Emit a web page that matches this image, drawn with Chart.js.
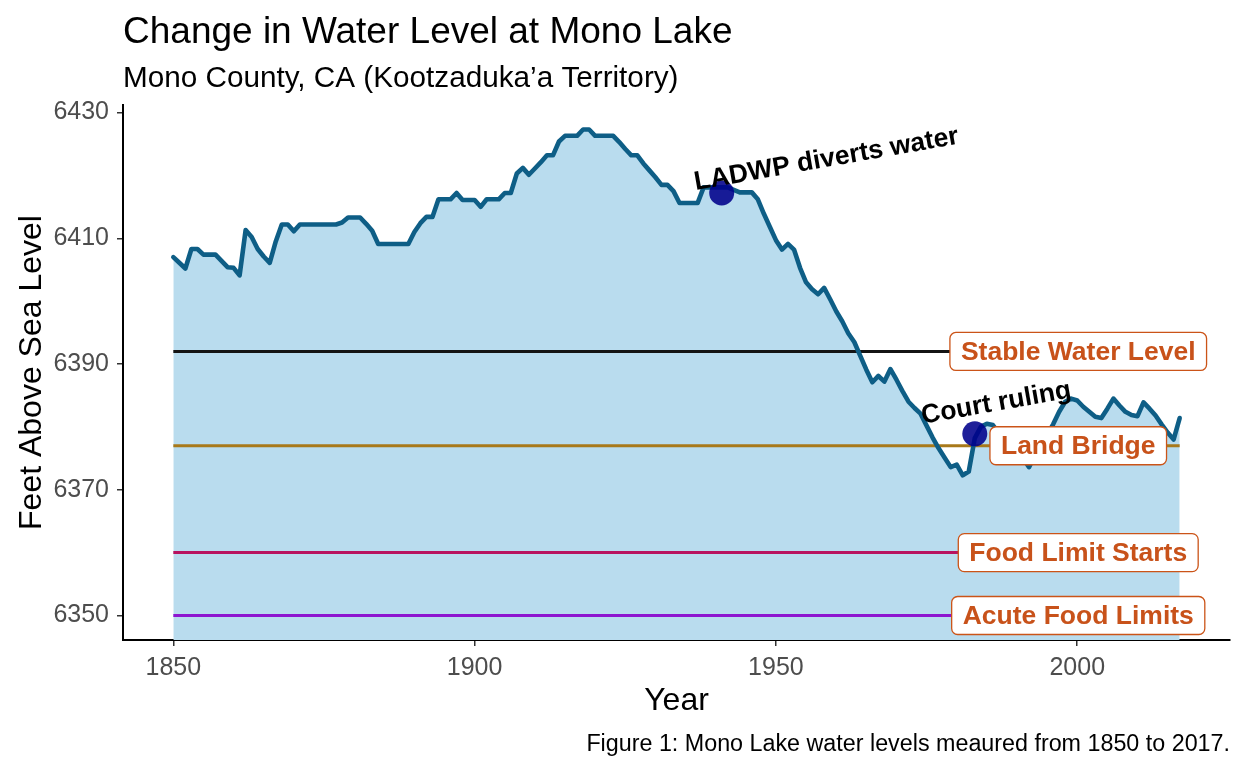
<!DOCTYPE html>
<html><head><meta charset="utf-8">
<script src="https://cdn.jsdelivr.net/npm/chart.js@4.4.1/dist/chart.umd.min.js"></script>
<style>html,body{margin:0;padding:0;background:#fff}canvas{display:block}</style>
</head><body>
<canvas id="c" width="1248" height="768"></canvas>
<script>
const years = [
 1850,1851,1852,1853,1854,1855,1856,1857,1858,1859,
 1860,1861,1862,1863,1864,1865,1866,1867,1868,1869,
 1870,1871,1872,1873,1874,1875,1876,1877,1878,1879,
 1880,1881,1882,1883,1884,1885,1886,1887,1888,1889,
 1890,1891,1892,1893,1894,1895,1896,1897,1898,1899,
 1900,1901,1902,1903,1904,1905,1906,1907,1908,1909,
 1910,1911,1912,1913,1914,1915,1916,1917,1918,1919,
 1920,1921,1922,1923,1924,1925,1926,1927,1928,1929,
 1930,1931,1932,1933,1934,1935,1936,1937,1938,1939,
 1940,1941,1942,1943,1944,1945,1946,1947,1948,1949,
 1950,1951,1952,1953,1954,1955,1956,1957,1958,1959,
 1960,1961,1962,1963,1964,1965,1966,1967,1968,1969,
 1970,1971,1972,1973,1974,1975,1976,1977,1978,1979,
 1980,1981,1982,1983,1984,1985,1986,1987,1988,1989,
 1990,1991,1992,1993,1994,1995,1996,1997,1998,1999,
 2000,2001,2002,2003,2004,2005,2006,2007,2008,2009,
 2010,2011,2012,2013,2014,2015,2016,2017];
const waterLevel = [
 6407.0,6406.1,6405.2,6408.3,6408.3,6407.4,6407.4,6407.4,6406.4,6405.4,
 6405.3,6404.1,6411.3,6410.2,6408.3,6407.1,6406.1,6409.5,6412.2,6412.2,
 6411.1,6412.2,6412.2,6412.2,6412.2,6412.2,6412.2,6412.2,6412.5,6413.3,
 6413.3,6413.3,6412.3,6411.2,6409.1,6409.1,6409.1,6409.1,6409.1,6409.1,
 6411.0,6412.4,6413.4,6413.4,6416.2,6416.2,6416.2,6417.2,6416.1,6416.1,
 6416.1,6415.0,6416.2,6416.2,6416.2,6417.2,6417.2,6420.3,6421.2,6420.1,
 6421.1,6422.1,6423.2,6423.2,6425.4,6426.3,6426.3,6426.3,6427.3,6427.3,
 6426.3,6426.3,6426.3,6426.3,6425.3,6424.2,6423.2,6423.2,6421.9,6420.8,
 6419.7,6418.5,6418.5,6417.5,6415.6,6415.6,6415.6,6415.6,6418.1,6418.1,
 6418.1,6418.1,6418.1,6417.7,6417.3,6417.3,6417.3,6416.2,6413.9,6411.8,
 6409.7,6408.2,6409.1,6408.2,6405.3,6403.0,6401.9,6401.1,6402.1,6400.3,
 6398.4,6396.8,6394.9,6393.5,6391.3,6389.1,6387.1,6388.1,6387.2,6389.2,
 6387.5,6385.7,6384.0,6383.0,6382.1,6380.2,6378.3,6376.6,6375.1,6373.6,
 6374.0,6372.3,6372.9,6378.2,6380.0,6380.5,6380.3,6379.0,6378.0,6377.0,
 6376.0,6375.0,6373.6,6375.5,6377.1,6378.8,6380.4,6382.4,6384.0,6384.5,
 6384.2,6383.2,6382.4,6381.6,6381.4,6382.9,6384.5,6383.4,6382.4,6381.9,
 6381.7,6383.9,6382.9,6381.8,6380.4,6379.1,6378.0,6381.4];
const xTicks = [1850,1900,1950,2000];
const yTicks = [6350,6370,6390,6410,6430];
const refLabels = ['Stable Water Level','Land Bridge','Food Limit Starts','Acute Food Limits'];
const refLevels = [6392,6377,6360,6350];
const refLabelYear = 2000;
const eventLabels = ['LADWP diverts water','Court ruling'];
const eventYears = [1941,1983];
const eventLevels = [6417.2,6378.9];
const titleText = 'Change in Water Level at Mono Lake';
const subtitleText = 'Mono County, CA (Kootzaduka\u2019a Territory)';
const captionText = 'Figure 1: Mono Lake water levels meaured from 1850 to 2017.';
const xTitle = 'Year';
const yTitle = 'Feet Above Sea Level';

const FONT = "'Liberation Sans', Arial, Helvetica, sans-serif";
Chart.defaults.font.family = FONT;

const refColors = ['#141414','#A8791A','#B8135F','#8E16CF'];
const series = years.map((yr, i) => ({x: yr, y: waterLevel[i]}));
const firstYear = years[0], lastYear = years[years.length - 1];

const datasets = [
  {data: series, borderWidth: 0, pointRadius: 0, fill: 'start', backgroundColor: '#B9DCEE', order: 10},
  ...refLevels.map((v, i) => ({
    data: [{x: firstYear, y: v}, {x: lastYear, y: v}],
    borderColor: refColors[i], borderWidth: 3, pointRadius: 0, fill: false, order: 5
  })),
  {data: series, borderColor: '#0E5E86', borderWidth: 4.6, pointRadius: 0, fill: false,
   borderJoinStyle: 'round', borderCapStyle: 'round', order: 2},
  {type: 'scatter', data: eventYears.map((yr, i) => ({x: yr, y: eventLevels[i]})),
   pointRadius: 12.5, pointHoverRadius: 12.5, backgroundColor: 'rgba(0,0,139,0.88)', borderWidth: 0, order: 1}
];

function roundRect(ctx, x, y, w, h, r) {
  ctx.beginPath();
  ctx.moveTo(x + r, y);
  ctx.lineTo(x + w - r, y); ctx.arcTo(x + w, y, x + w, y + r, r);
  ctx.lineTo(x + w, y + h - r); ctx.arcTo(x + w, y + h, x + w - r, y + h, r);
  ctx.lineTo(x + r, y + h); ctx.arcTo(x, y + h, x, y + h - r, r);
  ctx.lineTo(x, y + r); ctx.arcTo(x, y, x + r, y, r);
  ctx.closePath();
}

const deco = {
  id: 'deco',
  afterDatasetsDraw(chart) {
    const {ctx, scales: {x, y}} = chart;
    ctx.save();
    const evOff = [[-26, -3], [-52, -10]];
    eventLabels.forEach((t, i) => {
      const px = x.getPixelForValue(eventYears[i]), py = y.getPixelForValue(eventLevels[i]);
      ctx.save();
      ctx.translate(px + evOff[i][0], py + evOff[i][1]);
      ctx.rotate(-10 * Math.PI / 180);
      ctx.font = 'bold 26.5px ' + FONT;
      ctx.fillStyle = '#000';
      ctx.textAlign = 'left';
      ctx.textBaseline = 'alphabetic';
      ctx.fillText(t, 0, 0);
      ctx.restore();
    });
    ctx.font = 'bold 26.5px ' + FONT;
    refLabels.forEach((t, i) => {
      const cx = x.getPixelForValue(refLabelYear) + 1, cy = y.getPixelForValue(refLevels[i]);
      const w = ctx.measureText(t).width + 22, h = 38;
      roundRect(ctx, cx - w / 2, cy - h / 2, w, h, 6);
      ctx.fillStyle = '#fff';
      ctx.fill();
      ctx.lineWidth = 1.3;
      ctx.strokeStyle = '#CB5418';
      ctx.stroke();
      ctx.fillStyle = '#C8521A';
      ctx.textAlign = 'center';
      ctx.textBaseline = 'middle';
      ctx.fillText(t, cx, cy + 1);
    });
    ctx.restore();
  },
  afterDraw(chart) {
    const ctx = chart.ctx;
    ctx.save();
    ctx.fillStyle = '#000';
    ctx.textBaseline = 'alphabetic';
    ctx.textAlign = 'left';
    ctx.font = '37px ' + FONT;
    ctx.fillText(titleText, 123, 43);
    ctx.font = '29.7px ' + FONT;
    ctx.fillText(subtitleText, 123, 87);
    ctx.textAlign = 'right';
    ctx.font = '23.3px ' + FONT;
    ctx.fillText(captionText, 1230, 751);
    ctx.restore();
  }
};

new Chart(document.getElementById('c'), {
  type: 'line',
  data: {datasets},
  options: {
    responsive: false,
    animation: false,
    devicePixelRatio: 1,
    layout: {padding: {top: 105, right: 18, bottom: 40, left: 0}},
    plugins: {legend: {display: false}, tooltip: {enabled: false}, title: {display: false}},
    scales: {
      x: {
        type: 'linear', min: 1841.65, max: 2025.35,
        afterBuildTicks: s => { s.ticks = xTicks.map(v => ({value: v})); },
        afterFit: s => { s.height = 88; },
        ticks: {font: {size: 25}, color: '#4D4D4D', padding: 7, maxRotation: 0, autoSkip: false,
                callback: v => String(v)},
        grid: {display: true, drawOnChartArea: false, drawTicks: true, tickLength: 6, color: '#333', lineWidth: 1.5},
        border: {display: true, color: '#000', width: 2},
        title: {display: true, text: xTitle, font: {size: 32}, color: '#000', padding: {top: 0, bottom: 8}}
      },
      y: {
        type: 'linear', min: 6346.1, max: 6431.2,
        afterBuildTicks: s => { s.ticks = yTicks.map(v => ({value: v})); },
        afterFit: s => { s.width = 123; },
        ticks: {font: {size: 25}, color: '#4D4D4D', padding: 8, callback: v => String(v)},
        grid: {display: true, drawOnChartArea: false, drawTicks: true, tickLength: 6, color: '#333', lineWidth: 1.5},
        border: {display: true, color: '#000', width: 2},
        title: {display: true, text: yTitle, font: {size: 32}, color: '#000', padding: {top: 13, bottom: 0}}
      }
    }
  },
  plugins: [deco]
});
</script>
</body></html>
